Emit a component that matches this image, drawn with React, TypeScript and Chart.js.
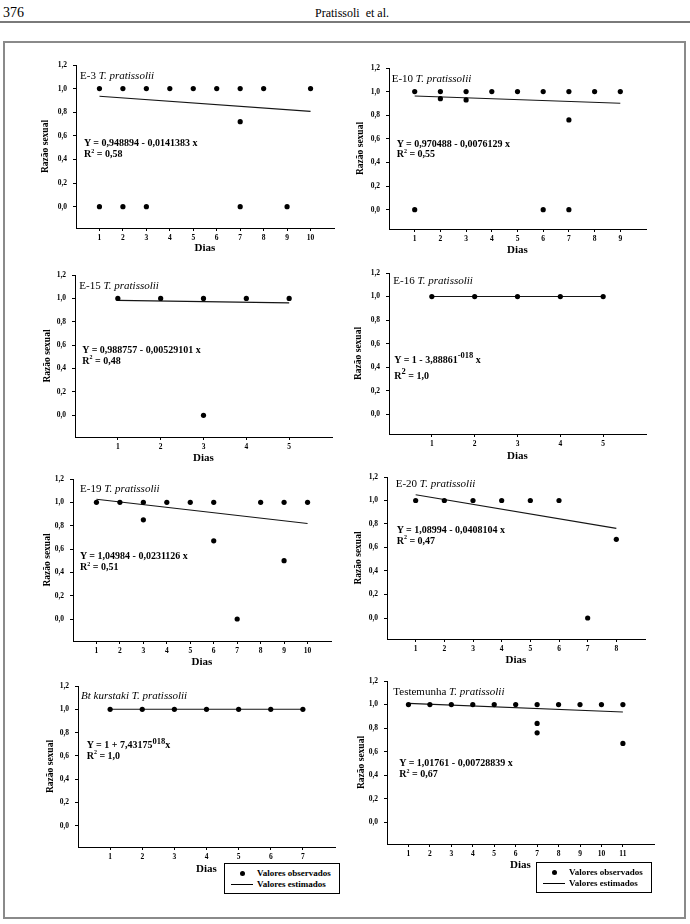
import React, { useEffect, useRef } from 'react';
import { Chart, registerables } from 'chart.js';

Chart.register(...registerables);

const FONT = '"Liberation Serif", "Times New Roman", Times, serif';

// ---------------- data ----------------
const Y_TICKS = [0, 0.2, 0.4, 0.6, 0.8, 1.0, 1.2];

const E3_DAYS = [1, 2, 3, 4, 5, 6, 7, 8, 9, 10];
const E3_OBS_X = [1, 2, 3, 4, 5, 6, 7, 8, 10, 7, 1, 2, 3, 7, 9];
const E3_OBS_Y = [1, 1, 1, 1, 1, 1, 1, 1, 1, 0.72, 0, 0, 0, 0, 0];
const E3_EST_X = [1, 10];
const E3_EST_Y = [0.935, 0.807];

const E10_DAYS = [1, 2, 3, 4, 5, 6, 7, 8, 9];
const E10_OBS_X = [1, 2, 3, 4, 5, 6, 7, 8, 9, 2, 3, 7, 1, 6, 7];
const E10_OBS_Y = [1, 1, 1, 1, 1, 1, 1, 1, 1, 0.94, 0.93, 0.76, 0, 0, 0];
const E10_EST_X = [1, 9];
const E10_EST_Y = [0.963, 0.902];

const E15_DAYS = [1, 2, 3, 4, 5];
const E15_OBS_X = [1, 2, 3, 4, 5, 3];
const E15_OBS_Y = [1, 1, 1, 1, 1, 0];
const E15_EST_X = [1, 5];
const E15_EST_Y = [0.983, 0.962];

const E16_DAYS = [1, 2, 3, 4, 5];
const E16_OBS_X = [1, 2, 3, 4, 5];
const E16_OBS_Y = [1, 1, 1, 1, 1];
const E16_EST_X = [1, 5];
const E16_EST_Y = [1, 1];

const E19_DAYS = [1, 2, 3, 4, 5, 6, 7, 8, 9, 10];
const E19_OBS_X = [1, 2, 3, 4, 5, 6, 8, 9, 10, 3, 6, 9, 7];
const E19_OBS_Y = [1, 1, 1, 1, 1, 1, 1, 1, 1, 0.85, 0.67, 0.5, 0];
const E19_EST_X = [1, 10];
const E19_EST_Y = [1.027, 0.819];

const E20_DAYS = [1, 2, 3, 4, 5, 6, 7, 8];
const E20_OBS_X = [1, 2, 3, 4, 5, 6, 7, 8];
const E20_OBS_Y = [1, 1, 1, 1, 1, 1, 0, 0.67];
const E20_EST_X = [1, 8];
const E20_EST_Y = [1.049, 0.763];

const BT_DAYS = [1, 2, 3, 4, 5, 6, 7];
const BT_OBS_X = [1, 2, 3, 4, 5, 6, 7];
const BT_OBS_Y = [1, 1, 1, 1, 1, 1, 1];
const BT_EST_X = [1, 7];
const BT_EST_Y = [1, 1];

const TEST_DAYS = [1, 2, 3, 4, 5, 6, 7, 8, 9, 10, 11];
const TEST_OBS_X = [1, 2, 3, 4, 5, 6, 7, 8, 9, 10, 11, 7, 7, 11];
const TEST_OBS_Y = [1, 1, 1, 1, 1, 1, 1, 1, 1, 1, 1, 0.84, 0.76, 0.67];
const TEST_EST_X = [1, 11];
const TEST_EST_Y = [1.01, 0.937];

// ---------------- layout ----------------
type Geo = { left: number; top: number; bottom: number; right: number; zero: number; xMax: number; yTitle: number; xTitle: number };
type Panel = { days: number[]; obsX: number[]; obsY: number[]; estX: number[]; estY: number[]; geo: Geo };

const PANELS: Panel[] = [
  { days: E3_DAYS, obsX: E3_OBS_X, obsY: E3_OBS_Y, estX: E3_EST_X, estY: E3_EST_Y,
    geo: { left: 76, top: 65, bottom: 228, right: 334, zero: 206.7, xMax: 11, yTitle: 30.4, xTitle: 20 } },
  { days: E10_DAYS, obsX: E10_OBS_X, obsY: E10_OBS_Y, estX: E10_EST_X, estY: E10_EST_Y,
    geo: { left: 389, top: 68, bottom: 229, right: 646, zero: 209.7, xMax: 10, yTitle: 28.8, xTitle: 21 } },
  { days: E15_DAYS, obsX: E15_OBS_X, obsY: E15_OBS_Y, estX: E15_EST_X, estY: E15_EST_Y,
    geo: { left: 75, top: 275, bottom: 437, right: 332, zero: 415.3, xMax: 6, yTitle: 27.8, xTitle: 21 } },
  { days: E16_DAYS, obsX: E16_OBS_X, obsY: E16_OBS_Y, estX: E16_EST_X, estY: E16_EST_Y,
    geo: { left: 389, top: 273, bottom: 434, right: 646, zero: 414.3, xMax: 6, yTitle: 30.3, xTitle: 22 } },
  { days: E19_DAYS, obsX: E19_OBS_X, obsY: E19_OBS_Y, estX: E19_EST_X, estY: E19_EST_Y,
    geo: { left: 73, top: 479, bottom: 641, right: 331, zero: 619, xMax: 11, yTitle: 25.3, xTitle: 21 } },
  { days: E20_DAYS, obsX: E20_OBS_X, obsY: E20_OBS_Y, estX: E20_EST_X, estY: E20_EST_Y,
    geo: { left: 387, top: 477, bottom: 639, right: 645, zero: 618, xMax: 9, yTitle: 28.7, xTitle: 21.5 } },
  { days: BT_DAYS, obsX: BT_OBS_X, obsY: BT_OBS_Y, estX: BT_EST_X, estY: BT_EST_Y,
    geo: { left: 78, top: 686, bottom: 847, right: 335, zero: 825.7, xMax: 8, yTitle: 27, xTitle: 22 } },
  { days: TEST_DAYS, obsX: TEST_OBS_X, obsY: TEST_OBS_Y, estX: TEST_EST_X, estY: TEST_EST_Y,
    geo: { left: 387, top: 681, bottom: 844, right: 654, zero: 822.3, xMax: 12.45, yTitle: 25.4, xTitle: 21.5 } },
];

const PAD_L = 42;
const PAD_T = 12;
const PAD_R = 10;
const PAD_B = 30;

function PanelChart({ p }: { p: Panel }) {
  const ref = useRef<HTMLCanvasElement>(null);
  const g = p.geo;
  const width = g.right - g.left + PAD_L + PAD_R;
  const height = g.bottom - g.top + PAD_T + PAD_B;

  useEffect(() => {
    if (!ref.current) return;
    const pxPerUnit = (g.zero - g.top) / 1.2;
    const yMin = 1.2 - (g.bottom - g.top) / pxPerUnit;
    const yTitleSize = 9.5;
    const xTitleSize = 11;
    const chart = new Chart(ref.current, {
      type: 'scatter',
      data: {
        datasets: [
          {
            label: 'Valores observados',
            data: p.obsX.map((x, i) => ({ x, y: p.obsY[i] })),
            pointRadius: 2.6,
            pointBackgroundColor: '#000',
            pointBorderColor: '#000',
            pointBorderWidth: 0,
            showLine: false,
          },
          {
            label: 'Valores estimados',
            data: p.estX.map((x, i) => ({ x, y: p.estY[i] })),
            showLine: true,
            pointRadius: 0,
            borderColor: '#151515',
            borderWidth: 1.1,
            fill: false,
          },
        ],
      },
      options: {
        responsive: false,
        animation: false,
        events: [],
        layout: { padding: { top: PAD_T, right: PAD_R, bottom: 0, left: 0 } },
        plugins: { legend: { display: false }, tooltip: { enabled: false } },
        scales: {
          x: {
            type: 'linear',
            position: 'bottom',
            min: 0,
            max: g.xMax,
            afterBuildTicks: (s: any) => { s.ticks = p.days.map((v) => ({ value: v })); },
            afterFit: (s: any) => { s.height = PAD_B; },
            grid: { drawOnChartArea: false, drawTicks: true, tickLength: 3, color: '#000', lineWidth: 1 },
            border: { display: true, color: '#000', width: 1 },
            ticks: {
              font: { family: FONT, size: 7.5, weight: 'bold' },
              color: '#000',
              padding: 2.5,
              maxRotation: 0,
              autoSkip: false,
              callback: (v: any) => String(v),
            },
            title: {
              display: true,
              text: 'Dias',
              color: '#000',
              font: { family: FONT, size: xTitleSize, weight: 'bold' },
              padding: { top: 0, bottom: PAD_B - g.xTitle - (xTitleSize * 1.2) / 2 },
            },
          },
          y: {
            type: 'linear',
            position: 'left',
            min: yMin,
            max: 1.2,
            afterBuildTicks: (s: any) => { s.ticks = Y_TICKS.map((v) => ({ value: v })); },
            afterFit: (s: any) => { s.width = PAD_L; },
            grid: { drawOnChartArea: false, drawTicks: true, tickLength: 3, color: '#000', lineWidth: 1 },
            border: { display: true, color: '#000', width: 1 },
            ticks: {
              font: { family: FONT, size: 7.5, weight: 'bold' },
              color: '#000',
              padding: 6,
              autoSkip: false,
              callback: (v: any) => Number(v).toFixed(1).replace('.', ','),
            },
            title: {
              display: true,
              text: 'Razão sexual',
              color: '#000',
              font: { family: FONT, size: yTitleSize, weight: 'bold' },
              padding: { top: PAD_L - g.yTitle - (yTitleSize * 1.2) / 2, bottom: 0 },
            },
          },
        },
      } as any,
    });
    return () => chart.destroy();
  }, []);

  return (
    <canvas
      ref={ref}
      width={width}
      height={height}
      style={{ position: 'absolute', left: g.left - PAD_L, top: g.top - PAD_T, width, height }}
    />
  );
}

function Txt({ x, y, size, bold, italic, children }: { x: number; y: number; size: number; bold?: boolean; italic?: boolean; children: any }) {
  return (
    <div
      style={{
        position: 'absolute',
        left: x,
        top: y - size / 2,
        fontFamily: FONT,
        fontSize: size,
        lineHeight: `${size}px`,
        fontWeight: bold ? 'bold' : 'normal',
        fontStyle: italic ? 'italic' : 'normal',
        whiteSpace: 'pre',
        color: '#000',
      }}
    >
      {children}
    </div>
  );
}

const Sup = ({ children, size = 0.6, raise = 0.45 }: { children: any; size?: number; raise?: number }) => (
  <span style={{ fontSize: `${size}em`, position: 'relative', top: `-${raise / size}em`, verticalAlign: 'baseline' }}>{children}</span>
);

const It = ({ children }: { children: any }) => <span style={{ fontStyle: 'italic' }}>{children}</span>;

function Title({ x, y, children }: { x: number; y: number; children: any }) {
  return <Txt x={x} y={y} size={11}>{children}</Txt>;
}

function Eq({ x, y, children }: { x: number; y: number; children: any }) {
  return <Txt x={x} y={y} size={10} bold>{children}</Txt>;
}

function Legend({ left, top }: { left: number; top: number }) {
  return (
    <div
      style={{
        position: 'absolute',
        left,
        top,
        width: 116,
        height: 31,
        boxSizing: 'border-box',
        border: '1px solid #000',
        background: '#fff',
      }}
    >
      <div style={{ position: 'absolute', left: 14.5, top: 7, width: 5, height: 5, borderRadius: '50%', background: '#000' }} />
      <div style={{ position: 'absolute', left: 5.5, top: 20, width: 22, height: 1, background: '#000' }} />
      <div style={{ position: 'absolute', left: 32, top: 4.5, fontFamily: FONT, fontSize: 9, lineHeight: '9px', fontWeight: 'bold', whiteSpace: 'pre' }}>Valores observados</div>
      <div style={{ position: 'absolute', left: 32, top: 16, fontFamily: FONT, fontSize: 9, lineHeight: '9px', fontWeight: 'bold', whiteSpace: 'pre' }}>Valores estimados</div>
    </div>
  );
}

export default function App() {
  return (
    <div style={{ position: 'absolute', left: 0, top: 0, width: 690, height: 924, background: '#fff', overflow: 'hidden' }}>
      <Txt x={3} y={13} size={14}>376</Txt>
      <Txt x={315} y={13} size={12}>Pratissoli  et al.</Txt>
      <div style={{ position: 'absolute', left: 0, top: 21, width: 690, height: 2, background: '#7a7a7a' }} />
      <div style={{ position: 'absolute', left: 3, top: 41, width: 683, height: 878, boxSizing: 'border-box', border: '2px solid #8a8a8a' }} />

      {PANELS.map((p, i) => (
        <PanelChart key={i} p={p} />
      ))}

      {/* E-3 */}
      <Title x={80} y={75.7}>E-3 <It>T. pratissolii</It></Title>
      <Eq x={84} y={143}>Y = 0,948894 - 0,0141383 x</Eq>
      <Eq x={84} y={154}>R<Sup>2</Sup> = 0,58</Eq>

      {/* E-10 */}
      <Title x={391.7} y={78.3}>E-10 <It>T. pratissolii</It></Title>
      <Eq x={396.7} y={144.3}>Y = 0,970488 - 0,0076129 x</Eq>
      <Eq x={396.7} y={154.3}>R<Sup>2</Sup> = 0,55</Eq>

      {/* E-15 */}
      <Title x={79.3} y={285}>E-15 <It>T. pratissolii</It></Title>
      <Eq x={82.3} y={350}>Y = 0,988757 - 0,00529101 x</Eq>
      <Eq x={82.3} y={360.7}>R<Sup>2</Sup> = 0,48</Eq>

      {/* E-16 */}
      <Title x={393.3} y={280}>E-16 <It>T. pratissolii</It></Title>
      <Eq x={394.3} y={360}>Y = 1 - 3,88861<Sup size={0.85} raise={0.5}>-018</Sup> x</Eq>
      <Eq x={394.3} y={376}>R<Sup size={0.85} raise={0.5}>2</Sup> = 1,0</Eq>

      {/* E-19 */}
      <Title x={80} y={488.3}>E-19 <It>T. pratissolii</It></Title>
      <Eq x={80} y={555.7}>Y = 1,04984 - 0,0231126 x</Eq>
      <Eq x={80} y={567.3}>R<Sup>2</Sup> = 0,51</Eq>

      {/* E-20 */}
      <Title x={395.7} y={483.3}>E-20 <It>T. pratissolii</It></Title>
      <Eq x={396.7} y={530}>Y = 1,08994 - 0,0408104 x</Eq>
      <Eq x={396.7} y={540.7}>R<Sup>2</Sup> = 0,47</Eq>

      {/* Bt kurstaki */}
      <Title x={81} y={695}><It>Bt kurstaki T. pratissolii</It></Title>
      <Eq x={86.7} y={745}>Y = 1 + 7,43175<Sup size={0.85} raise={0.45}>018</Sup>x</Eq>
      <Eq x={86.7} y={755.7}>R<Sup>2</Sup> = 1,0</Eq>

      {/* Testemunha */}
      <Title x={393.3} y={691}>Testemunha <It>T. pratissolii</It></Title>
      <Eq x={399.3} y={763.3}>Y = 1,01761 - 0,00728839 x</Eq>
      <Eq x={399.3} y={774.3}>R<Sup>2</Sup> = 0,67</Eq>

      <Legend left={224} top={863} />
      <Legend left={536} top={862} />
    </div>
  );
}
